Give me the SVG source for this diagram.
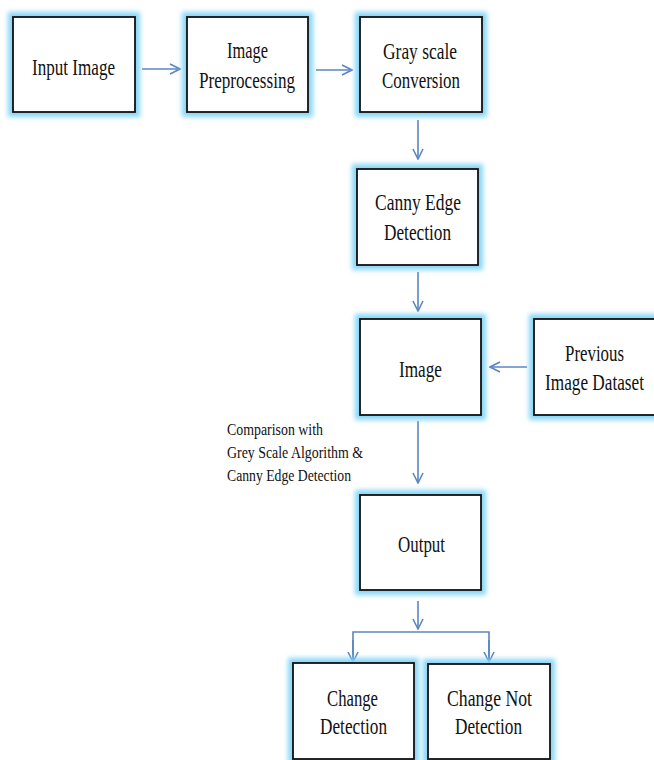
<svg xmlns="http://www.w3.org/2000/svg" width="654" height="760" viewBox="0 0 654 760">
<style>
.glow{fill:none;stroke:#86d6f7;stroke-width:10;filter:url(#blur)}
.box{fill:#fff;stroke:#111;stroke-width:1.8}
.t{font-family:"Liberation Serif","Times New Roman",serif;font-size:24px;fill:#111;text-anchor:start}
.s{font-family:"Liberation Serif","Times New Roman",serif;font-size:17px;fill:#111}
.c{fill:none;stroke:#5b86c2;stroke-width:1.6}
</style>
<defs>
<filter id="blur" x="-20%" y="-20%" width="140%" height="140%"><feGaussianBlur stdDeviation="2.8"/></filter>
<marker id="ah" viewBox="0 0 12 12" refX="11" refY="6" markerWidth="12" markerHeight="12" markerUnits="userSpaceOnUse" orient="auto">
<path d="M1,1 L11,6 L1,11" fill="none" stroke="#5b86c2" stroke-width="1.6"/>
</marker>
</defs>
<rect width="654" height="760" fill="#fff"/>
<g id="connectors">
<line class="c" x1="142" y1="69" x2="180" y2="69" marker-end="url(#ah)"/>
<line class="c" x1="316" y1="70" x2="352" y2="70" marker-end="url(#ah)"/>
<line class="c" x1="418" y1="120" x2="418" y2="159" marker-end="url(#ah)"/>
<line class="c" x1="418" y1="272" x2="418" y2="311" marker-end="url(#ah)"/>
<line class="c" x1="527" y1="367" x2="490" y2="367" marker-end="url(#ah)"/>
<line class="c" x1="418" y1="421" x2="418" y2="483" marker-end="url(#ah)"/>
<line class="c" x1="418" y1="601" x2="418" y2="629" marker-end="url(#ah)"/>
<polyline class="c" points="353,662 353,632 489,632 489,662"/>
<line class="c" x1="353" y1="640" x2="353" y2="662" marker-end="url(#ah)"/>
<line class="c" x1="489" y1="640" x2="489" y2="662" marker-end="url(#ah)"/>
</g>
<g id="input-image">
<rect class="glow" x="13" y="17" width="122" height="95"/>
<rect class="box" x="13" y="17" width="122" height="95"/>
<text class="t" x="32" y="75" textLength="83" lengthAdjust="spacingAndGlyphs">Input Image</text>
</g>
<g id="image-preprocessing">
<rect class="glow" x="187" y="17" width="121" height="95"/>
<rect class="box" x="187" y="17" width="121" height="95"/>
<text class="t" x="227" y="58" textLength="41" lengthAdjust="spacingAndGlyphs">Image</text>
<text class="t" x="199" y="88" textLength="96" lengthAdjust="spacingAndGlyphs">Preprocessing</text>
</g>
<g id="gray-scale">
<rect class="glow" x="360" y="17" width="122" height="95"/>
<rect class="box" x="360" y="17" width="122" height="95"/>
<text class="t" x="383" y="59" textLength="74" lengthAdjust="spacingAndGlyphs">Gray scale</text>
<text class="t" x="382" y="88" textLength="78" lengthAdjust="spacingAndGlyphs">Conversion</text>
</g>
<g id="canny-edge">
<rect class="glow" x="357" y="169" width="121" height="96"/>
<rect class="box" x="357" y="169" width="121" height="96"/>
<text class="t" x="375" y="210" textLength="86" lengthAdjust="spacingAndGlyphs">Canny Edge</text>
<text class="t" x="384" y="240" textLength="67" lengthAdjust="spacingAndGlyphs">Detection</text>
</g>
<g id="image">
<rect class="glow" x="360" y="319" width="121" height="96"/>
<rect class="box" x="360" y="319" width="121" height="96"/>
<text class="t" x="399" y="377" textLength="43" lengthAdjust="spacingAndGlyphs">Image</text>
</g>
<g id="previous-dataset">
<rect class="glow" x="534" y="319" width="122" height="96"/>
<rect class="box" x="534" y="319" width="122" height="96"/>
<text class="t" x="565" y="361" textLength="59" lengthAdjust="spacingAndGlyphs">Previous</text>
<text class="t" x="545" y="390" textLength="99" lengthAdjust="spacingAndGlyphs">Image Dataset</text>
</g>
<g id="comparison-label">
<text class="s" x="227" y="435" textLength="96" lengthAdjust="spacingAndGlyphs">Comparison with</text>
<text class="s" x="227" y="458" textLength="136" lengthAdjust="spacingAndGlyphs">Grey Scale Algorithm &amp;</text>
<text class="s" x="227" y="481" textLength="124" lengthAdjust="spacingAndGlyphs">Canny Edge Detection</text>
</g>
<g id="output">
<rect class="glow" x="360" y="495" width="121" height="95"/>
<rect class="box" x="360" y="495" width="121" height="95"/>
<text class="t" x="398" y="552" textLength="47" lengthAdjust="spacingAndGlyphs">Output</text>
</g>
<g id="change-detection">
<rect class="glow" x="293" y="663" width="121" height="96"/>
<rect class="box" x="293" y="663" width="121" height="96"/>
<text class="t" x="327" y="706" textLength="51" lengthAdjust="spacingAndGlyphs">Change</text>
<text class="t" x="320" y="734" textLength="67" lengthAdjust="spacingAndGlyphs">Detection</text>
</g>
<g id="change-not-detection">
<rect class="glow" x="428" y="664" width="122" height="95"/>
<rect class="box" x="428" y="664" width="122" height="95"/>
<text class="t" x="447" y="706" textLength="85" lengthAdjust="spacingAndGlyphs">Change Not</text>
<text class="t" x="455" y="734" textLength="67" lengthAdjust="spacingAndGlyphs">Detection</text>
</g>
</svg>
